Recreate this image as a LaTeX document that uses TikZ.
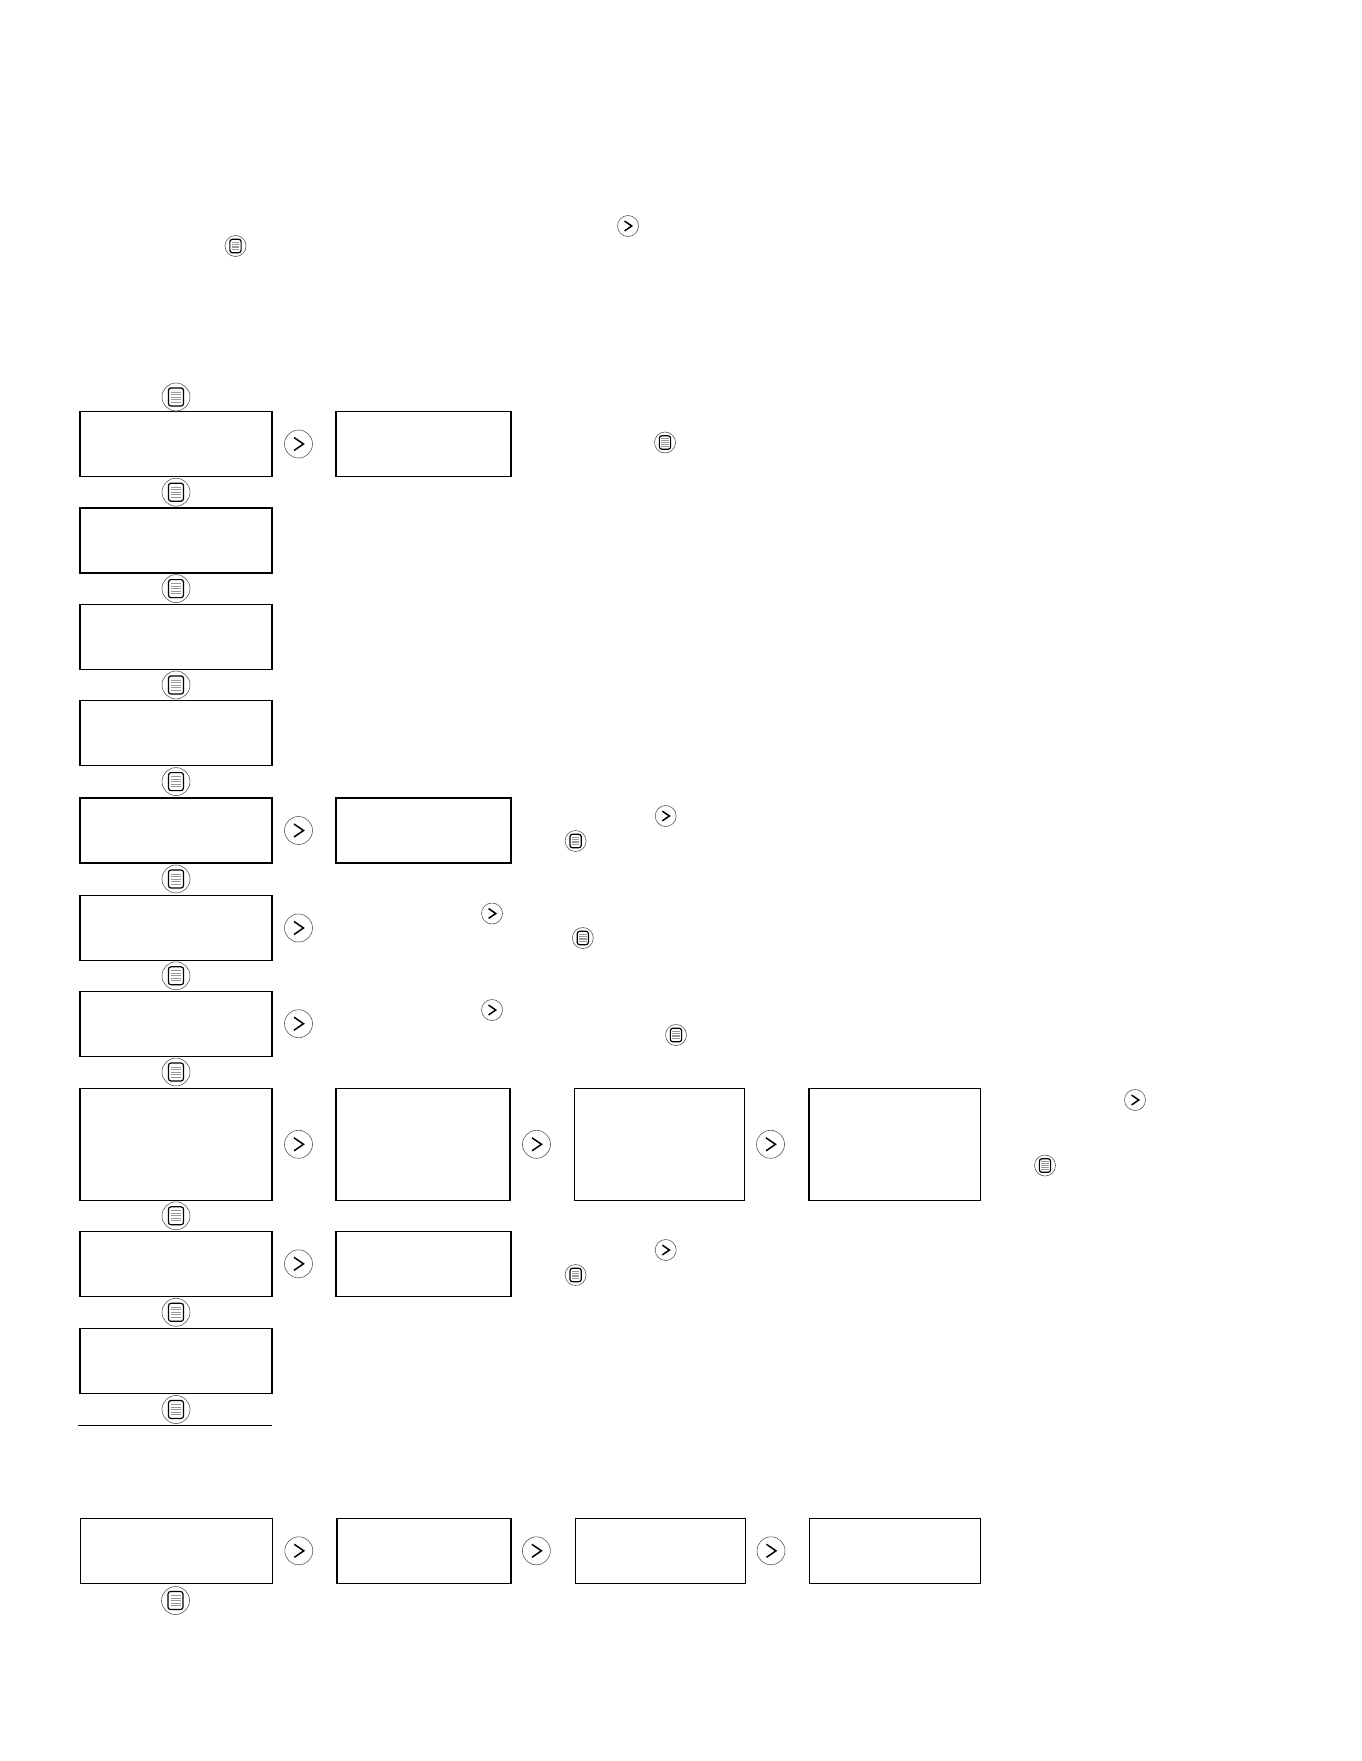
\documentclass[tikz,border=0pt]{standalone}
\usepackage{tikz}

\tikzset{
    screen/.style={draw, line width=1.3pt, inner sep=0pt, minimum width=192pt, minimum height=65pt},
    menubtn/.pic={
        \draw[black!65, line width=0.6pt] (0,0) circle (14);
        \draw[line width=1.2pt, rounded corners=2.5pt] (-7.5,-9) rectangle (7.5,9);
        \foreach \ly in {-5,-2.5,...,5.1}
            \draw[gray!80, line width=0.9pt] (-5,\ly) -- (5,\ly);
    },
    nextbtn/.pic={
        \draw[black!65, line width=0.6pt] (0,0) circle (14);
        \draw[line width=1.5pt] (-4.5,-6.5) -- (5,0) -- (-4.5,6.5);
    },
    smallicon/.style={scale=0.75}
}

\begin{document}
\begin{tikzpicture}[x=1pt, y=-1pt]
    \useasboundingbox (0,0) rectangle (1361,1761);

    % Small buttons in the header
    \pic[smallicon] at (628,226) {nextbtn};
    \pic[smallicon] at (235.5,246) {menubtn};

    % Left column of screens
    \foreach \cy/\h [count=\n] in {444/65, 540.5/65, 636.7/65, 733.3/65, 830.5/65,
                                  928/65, 1023.7/65, 1144.3/112, 1263.8/65, 1360.8/65} {
        \node[screen, minimum height=\h*1pt] (a\n) at (176,\cy) {};
    }

    % Menu buttons between the screens
    \foreach \my in {397, 492.2, 588.6, 685, 781.6, 879, 975.8, 1072, 1215.8, 1312.3, 1409.5} {
        \pic at (176,\my) {menubtn};
    }
    \draw[line width=1.2pt] (77.9,1425.3) -- (271.6,1425.3);

    % Second screens
    \node[screen, minimum width=175pt] (b1) at (423.5,444) {};
    \node[screen, minimum width=175pt] (b5) at (423.5,830.5) {};
    \node[screen, minimum width=174pt, minimum height=112pt] (b8) at (423,1144.3) {};
    \node[screen, minimum width=169.5pt, minimum height=112pt] (c8) at (659.5,1144.3) {};
    \node[screen, minimum width=171.5pt, minimum height=112pt] (d8) at (894.6,1144.3) {};
    \node[screen, minimum width=175pt] (b9) at (423.5,1263.8) {};

    % Next buttons
    \foreach \ny in {444, 830.5, 928, 1023.7, 1144.3, 1263.8} {
        \pic at (298.5,\ny) {nextbtn};
    }
    \pic at (536.5,1144.3) {nextbtn};
    \pic at (770.5,1144.3) {nextbtn};

    % Small buttons beside the rows
    \pic[smallicon] at (665,442.5) {menubtn};
    \pic[smallicon] at (665.7,816) {nextbtn};
    \pic[smallicon] at (575.6,841) {menubtn};
    \pic[smallicon] at (492,913.5) {nextbtn};
    \pic[smallicon] at (582.8,938) {menubtn};
    \pic[smallicon] at (492,1010) {nextbtn};
    \pic[smallicon] at (676,1035) {menubtn};
    \pic[smallicon] at (1135,1100) {nextbtn};
    \pic[smallicon] at (1045,1165.5) {menubtn};
    \pic[smallicon] at (665.7,1250) {nextbtn};
    \pic[smallicon] at (575.6,1275) {menubtn};

    % Bottom row
    \node[screen] (e1) at (176.6,1550.8) {};
    \node[screen, minimum width=174pt] (e2) at (424,1550.8) {};
    \node[screen, minimum width=169.7pt] (e3) at (660.6,1550.8) {};
    \node[screen, minimum width=171pt] (e4) at (895.2,1550.8) {};
    \pic at (298.8,1550.8) {nextbtn};
    \pic at (536.4,1550.8) {nextbtn};
    \pic at (771,1550.8) {nextbtn};
    \pic at (175.5,1600.5) {menubtn};
\end{tikzpicture}
\end{document}
